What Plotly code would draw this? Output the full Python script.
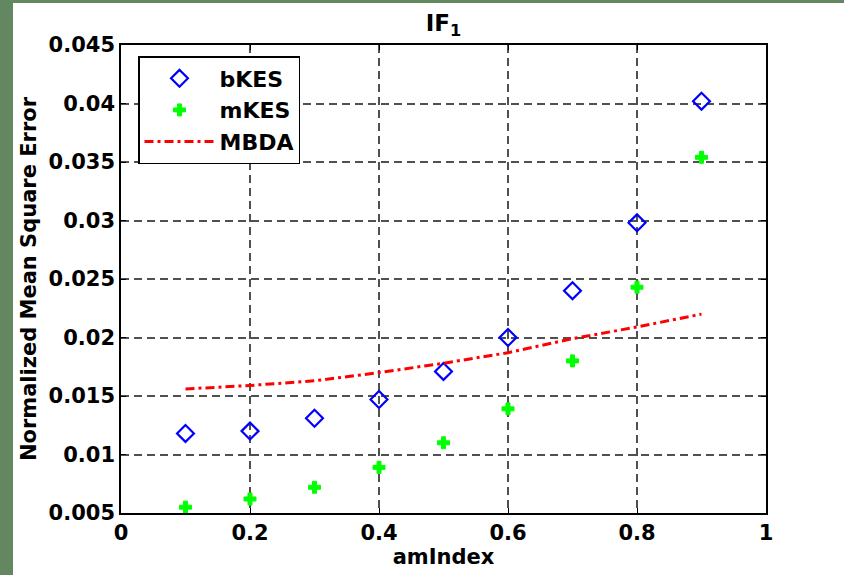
import plotly.graph_objects as go

am_index = [0.1, 0.2, 0.3, 0.4, 0.5, 0.6, 0.7, 0.8, 0.9]
bkes = [0.0118, 0.0120, 0.0131, 0.0147, 0.0171, 0.0200, 0.0240, 0.0298, 0.0402]
mkes = [0.0055, 0.0062, 0.0072, 0.0089, 0.0110, 0.0139, 0.0180, 0.0243, 0.0354]
mbda = [0.0156, 0.0159, 0.0163, 0.0170, 0.0178, 0.0187, 0.0199, 0.0209, 0.0220]

x_ticks = [0, 0.2, 0.4, 0.6, 0.8, 1]
x_ticklabels = ["0", "0.2", "0.4", "0.6", "0.8", "1"]
y_ticks = [0.005, 0.01, 0.015, 0.02, 0.025, 0.03, 0.035, 0.04, 0.045]
y_ticklabels = ["0.005", "0.01", "0.015", "0.02", "0.025", "0.03", "0.035", "0.04", "0.045"]

FONT = "DejaVu Sans"
GREEN = "rgb(99,135,97)"

fig = go.Figure()
fig.add_trace(go.Scatter(
    x=am_index, y=bkes, mode="markers", name="bKES",
    marker=dict(symbol="diamond-open", size=13, color="#0000ff",
                line=dict(width=2.2, color="#0000ff")),
))
fig.add_trace(go.Scatter(
    x=am_index, y=mkes, mode="markers", name="mKES",
    marker=dict(symbol="cross", size=10, color="#00ff00",
                line=dict(width=1, color="#00ff00")),
))
fig.add_trace(go.Scatter(
    x=am_index, y=mbda, mode="lines", name="MBDA",
    line=dict(color="#ff0000", width=3, dash="9px,4px,3px,4px"),
))

axis_common = dict(
    showline=True, linecolor="black", linewidth=1.5, mirror="ticks",
    ticks="inside", ticklen=5, tickwidth=1, tickcolor="black",
    showgrid=True, gridcolor="#505050", gridwidth=1.5, griddash="8px,5px",
    zeroline=False,
    tickfont=dict(family=FONT, size=21, color="black", weight="bold"),
)

fig.update_xaxes(
    range=[0, 1], tickvals=x_ticks, ticktext=x_ticklabels,
    title=dict(text="amIndex", standoff=2,
               font=dict(family=FONT, size=21, color="black", weight="bold")),
    **axis_common,
)
fig.update_yaxes(
    range=[0.005, 0.045], tickvals=y_ticks, ticktext=y_ticklabels,
    title=dict(text="Normalized Mean Square Error", standoff=6,
               font=dict(family=FONT, size=21, color="black", weight="bold")),
    **axis_common,
)

# green frame strips (left and top) of the original image
shapes = [
    dict(type="rect", xref="paper", yref="paper",
         x0=-0.19, x1=(13 - 121) / 645, y0=-0.14, y1=1.11,
         fillcolor=GREEN, line=dict(width=0), layer="above"),
    dict(type="rect", xref="paper", yref="paper",
         x0=-0.19, x1=1.13, y0=(513 - 3) / 468, y1=1.11,
         fillcolor=GREEN, line=dict(width=0), layer="above"),
]

fig.update_layout(
    width=844, height=575,
    margin=dict(l=121, r=78, t=45, b=62),
    paper_bgcolor="white", plot_bgcolor="white",
    title=dict(text="<b>IF<sub>1</sub></b>", x=0.5, xref="paper",
               y=1 - 23 / 575, yref="container", yanchor="middle",
               font=dict(family=FONT, size=23, color="black")),
    legend=dict(
        x=(138 - 121) / 645, y=(513 - 56) / 468, xanchor="left", yanchor="top",
        bgcolor="white", bordercolor="black", borderwidth=1.5,
        font=dict(family=FONT, size=22, color="black", weight="bold"),
        tracegroupgap=0, itemwidth=70,
    ),
    shapes=shapes,
    showlegend=True,
)

fig.write_html("out.html")
